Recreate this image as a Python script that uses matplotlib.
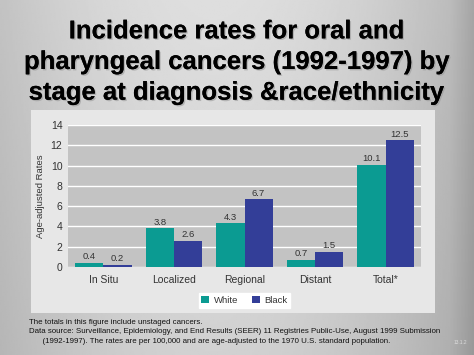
import matplotlib.pyplot as plt
import matplotlib.patheffects as pe
from matplotlib.patches import Rectangle
import numpy as np

plt.rcParams['font.family'] = ['Liberation Sans', 'DejaVu Sans']

stages = ["In Situ", "Localized", "Regional", "Distant", "Total*"]
white_rates = [0.4, 3.8, 4.3, 0.7, 10.1]
black_rates = [0.2, 2.6, 6.7, 1.5, 12.5]
series_names = ["White", "Black"]
yticks = [0, 2, 4, 6, 8, 10, 12, 14]

title = "Incidence rates for oral and\npharyngeal cancers (1992-1997) by\nstage at diagnosis &race/ethnicity"
note_lines = [
    "The totals in this figure include unstaged cancers.",
    "Data source: Surveillance, Epidemiology, and End Results (SEER) 11 Registries Public-Use, August 1999 Submission",
    "      (1992-1997). The rates are per 100,000 and are age-adjusted to the 1970 U.S. standard population.",
]

W, H = 474, 355
fig = plt.figure(figsize=(W / 100, H / 100), dpi=100)

# slide background gradient
bg = fig.add_axes([0, 0, 1, 1])
xs = np.linspace(0, 1, 300)
row = 0.87 - 0.16 * ((xs - 0.45) / 0.55) ** 2
row = np.where(xs > 0.95, row - 0.06 * (xs - 0.95) / 0.05, row)
ys = np.linspace(0, 1, 200)[:, None]
grad = row[None, :] - 0.05 * ys
bg.imshow(grad, cmap="gray", vmin=0, vmax=1, aspect="auto", extent=[0, 1, 0, 1], origin="upper")
bg.set_xlim(0, 1)
bg.set_ylim(0, 1)
bg.axis("off")

# light panel behind chart
bg.add_patch(Rectangle((31 / W, 1 - 313 / H), (435 - 31) / W, (313 - 110) / H,
                       facecolor="#e7e7e7", edgecolor="none", zorder=2))

fig.text(0.5, 1 - 62 / H, title, ha="center", va="center", fontsize=18.5, fontweight="bold",
         color="black", linespacing=1.35,
         path_effects=[pe.withSimplePatchShadow(offset=(1, -1), shadow_rgbFace="#999999", alpha=0.6),
                       pe.Normal()])

ax = fig.add_axes([68 / W, 1 - 267 / H, (421 - 68) / W, (267 - 125) / H])
ax.set_facecolor("#c3c3c3")
x = np.arange(len(stages))
w = 0.4
b1 = ax.bar(x - w / 2, white_rates, w, color="#0b9b92", label=series_names[0], zorder=3)
b2 = ax.bar(x + w / 2, black_rates, w, color="#333e98", label=series_names[1], zorder=3)
for bars, vals in ((b1, white_rates), (b2, black_rates)):
    for rect, v in zip(bars, vals):
        ax.text(rect.get_x() + rect.get_width() / 2, v + 0.15, f"{v}", ha="center", va="bottom",
                fontsize=6.8, color="#333333")

ax.set_xlim(-0.5, len(stages) - 0.5)
ax.set_ylim(0, 14)
ax.set_yticks(yticks)
ax.set_xticks(x)
ax.set_xticklabels(stages)
ax.yaxis.grid(True, color="white", linewidth=1.0, zorder=0)
ax.set_axisbelow(True)
for s in ax.spines.values():
    s.set_visible(False)
ax.tick_params(length=0, labelsize=7.5, colors="#333333", pad=4)
ax.tick_params(axis="x", pad=6)
ax.set_ylabel("Age-adjusted Rates", fontsize=6.8, color="#333333", labelpad=4)

leg = ax.legend(loc="upper center", bbox_to_anchor=(0.5, -0.15), ncol=2, frameon=True, fontsize=6.8,
                handlelength=0.8, handleheight=0.8, columnspacing=1.5, handletextpad=0.5,
                borderpad=0.3, fancybox=False)
leg.get_frame().set_facecolor("white")
leg.get_frame().set_edgecolor("white")
leg.get_frame().set_alpha(1)
for t in leg.get_texts():
    t.set_color("#333333")

for i, line in enumerate(note_lines):
    fig.text(29 / W, 1 - (322 + i * 9.8) / H, line, ha="left", va="center", fontsize=5.65, color="#111111")
fig.text(460 / W, 1 - 343 / H, "13.1.2", ha="center", va="center", fontsize=3.5, color="#dddddd")

fig.savefig("out.png", dpi=100)
